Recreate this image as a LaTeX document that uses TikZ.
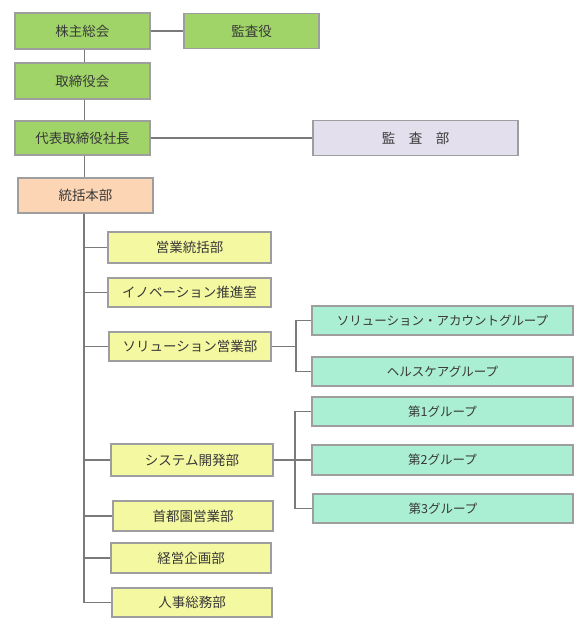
\documentclass[tikz,border=0pt]{standalone}
\usepackage{fontspec}
\setmainfont{Noto Sans CJK JP}
\begin{document}
\begin{tikzpicture}[x=1pt,y=-1pt,
  box/.style={draw=black!38, line width=1.1pt, inner sep=0pt, text=black!78,
    font=\fontsize{13.5}{15}\selectfont},
  grp/.style={box, fill=cmint, font=\fontsize{12.5}{14}\selectfont},
  conn/.style={draw=black!52, line width=1.9pt}]
\definecolor{cgreen}{HTML}{A0D468}
\definecolor{corange}{HTML}{FCD5B4}
\definecolor{clav}{HTML}{E4DFEC}
\definecolor{cyel}{HTML}{F4F8A0}
\definecolor{cmint}{HTML}{AAEED4}
\useasboundingbox (0,0) rectangle (584,625);
% connectors first (behind boxes)
\coordinate (b1) at (296,346.5);
\coordinate (b2) at (295,460);
% top
\node[box, fill=cgreen, minimum width=135pt, minimum height=36pt] (kabu) at (82.5,31) {株主総会};
\node[box, fill=cgreen, minimum width=135pt, minimum height=35pt] (kansayaku) at (251.5,31) {監査役};
\node[box, fill=cgreen, minimum width=135pt, minimum height=36pt] (tori) at (82.5,81) {取締役会};
\node[box, fill=cgreen, minimum width=135pt, minimum height=34pt] (daihyo) at (82.5,138) {代表取締役社長};
\node[box, fill=clav, minimum width=205pt, minimum height=35pt] (kansabu) at (415.5,138) {監　査　部};
\node[box, fill=corange, minimum width=135pt, minimum height=35pt] (toukatsu) at (85.5,195.5) {統括本部};
% departments
\node[box, fill=cyel, minimum width=163pt, minimum height=31pt] (eigyo) at (189.5,247.5) {営業統括部};
\node[box, fill=cyel, minimum width=163pt, minimum height=29pt] (inov) at (189.5,292.5) {イノベーション推進室};
\node[box, fill=cyel, minimum width=162pt, minimum height=29pt] (sol) at (190,346.5) {ソリューション営業部};
\node[box, fill=cyel, minimum width=162pt, minimum height=32pt] (sys) at (192,460) {システム開発部};
\node[box, fill=cyel, minimum width=160pt, minimum height=30pt] (shuto) at (193,516) {首都園営業部};
\node[box, fill=cyel, minimum width=160pt, minimum height=30pt] (keiei) at (191,558) {経営企画部};
\node[box, fill=cyel, minimum width=160pt, minimum height=29pt] (jinji) at (192,602.5) {人事総務部};
% groups
\node[grp, minimum width=261pt, minimum height=29pt] (sa) at (442.5,320.5) {ソリューション・アカウントグループ};
\node[grp, minimum width=261pt, minimum height=29pt] (hc) at (442.5,371.5) {ヘルスケアグループ};
\node[grp, minimum width=261pt, minimum height=29pt] (g1) at (442.5,411.5) {第1グループ};
\node[grp, minimum width=261pt, minimum height=30pt] (g2) at (442.5,460) {第2グループ};
\node[grp, minimum width=260pt, minimum height=29pt] (g3) at (443,508.5) {第3グループ};
% connectors
\draw[conn] (kabu.east) -- (kansayaku.west);
\draw[conn] ([xshift=2pt]kabu.south) -- ([xshift=2pt]tori.north);
\draw[conn] ([xshift=2pt]tori.south) -- ([xshift=2pt]daihyo.north);
\draw[conn] ([xshift=2pt]daihyo.south) -- ([xshift=-1pt]toukatsu.north);
\draw[conn] (daihyo.east) -- (kansabu.west);
\draw[conn, line join=miter] ([xshift=-1.5pt]toukatsu.south) |- (jinji.west);
\draw[conn] ([xshift=-1.5pt]toukatsu.south) |- (eigyo.west);
\draw[conn] ([xshift=-1.5pt]toukatsu.south) |- (inov.west);
\draw[conn] ([xshift=-1.5pt]toukatsu.south) |- (sol.west);
\draw[conn] ([xshift=-1.5pt]toukatsu.south) |- (sys.west);
\draw[conn] ([xshift=-1.5pt]toukatsu.south) |- (shuto.west);
\draw[conn] ([xshift=-1.5pt]toukatsu.south) |- (keiei.west);
\draw[conn] (sol.east) -- (b1);
\draw[conn] (sa.west) -| (b1);
\draw[conn] (hc.west) -| (b1);
\draw[conn] (sys.east) -- (g2.west);
\draw[conn] (g1.west) -| (b2);
\draw[conn] (g3.west) -| (b2);
\end{tikzpicture}
\end{document}
